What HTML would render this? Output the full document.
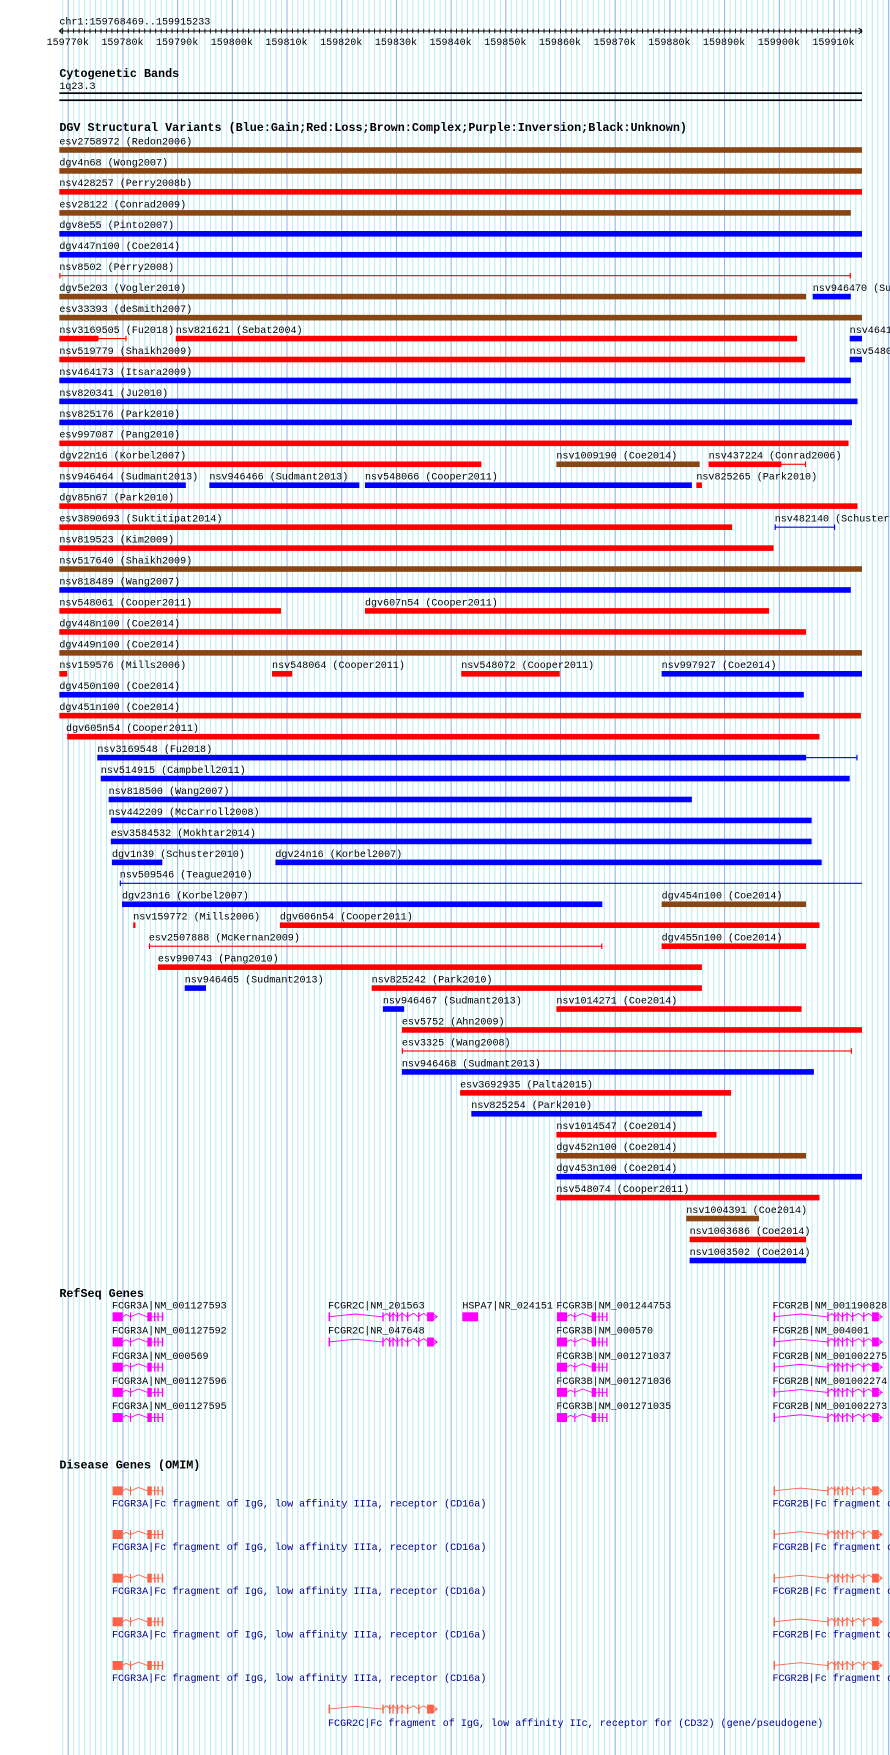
<!DOCTYPE html>
<html><head><meta charset="utf-8"><style>
html,body{margin:0;padding:0;background:#fff;}
svg{display:block;}
text{font-family:"Liberation Mono",monospace;font-size:9px;fill:#000;}
.h{font-weight:bold;font-size:10.5px;}
.d{fill:#00008b;}
#g3a rect,#g2b rect{stroke:none;}
</style></head><body>
<svg width="890" height="1755" viewBox="0 0 795 1568" preserveAspectRatio="none" xmlns="http://www.w3.org/2000/svg">
<defs>
<pattern id="g1" patternUnits="userSpaceOnUse" x="60.5" y="0" width="4.886" height="10"><rect x="0" y="0" width="0.8" height="10" fill="#aeeaf0"/></pattern>
<pattern id="g2" patternUnits="userSpaceOnUse" x="60.5" y="0" width="48.86" height="10"><rect x="0" y="0" width="0.9" height="10" fill="#8fb8ea"/></pattern>
<g id="g3a"><rect x="0" y="-4" width="9" height="8"/><polyline points="9,0 12,-2 16,0 23,-3 31,0" fill="none" stroke-width="0.8"/><rect x="15.5" y="-4" width="1" height="8"/><rect x="31" y="-4" width="4" height="8"/><rect x="37" y="-4" width="1.2" height="8"/><rect x="40" y="-4" width="1.2" height="8"/><rect x="44" y="-4" width="1.2" height="8"/><line x1="35" y1="0" x2="45" y2="0" stroke-width="0.8"/></g>
<g id="g2b"><rect x="0" y="-4" width="1.3" height="8"/><polyline points="0,0 24,-2.5 48,0 52,-3 55,0 58,-3 61,0 66,-3 70,0 76,-3 80,0 85,-3 89,0 97,0" fill="none" stroke-width="0.8"/><rect x="48" y="-4" width="1.2" height="8"/><rect x="54" y="-4" width="1.2" height="8"/><rect x="57" y="-4" width="1.2" height="8"/><rect x="61" y="-4" width="1.2" height="8"/><rect x="65" y="-4" width="1.2" height="8"/><rect x="70" y="-4" width="1.2" height="8"/><rect x="80" y="-4" width="1.2" height="8"/><rect x="88" y="-4" width="6" height="8"/><polyline points="93,-3 97,0 93,3" fill="none" stroke-width="0.8"/></g>
</defs>
<rect x="0" y="0" width="795" height="1568" fill="#fff"/>
<rect x="53" y="0" width="742" height="1568" fill="url(#g1)"/>
<rect x="53" y="0" width="742" height="1568" fill="url(#g2)"/>

<text x="53" y="22">chr1:159768469..159915233</text>
<line x1="53" y1="27.7" x2="770" y2="27.7" stroke="#000" stroke-width="0.8"/>
<line x1="53" y1="27.7" x2="770" y2="27.7" stroke="#000" stroke-width="4" stroke-dasharray="0.8 4.086" stroke-dashoffset="-2.6"/>
<polyline points="56,25 53,27.7 56,30.4" fill="none" stroke="#000" stroke-width="0.8"/>
<polyline points="767,25 770,27.7 767,30.4" fill="none" stroke="#000" stroke-width="0.8"/>
<g text-anchor="middle">
<text x="60.5" y="40">159770k</text><text x="109.4" y="40">159780k</text><text x="158.2" y="40">159790k</text><text x="207.1" y="40">159800k</text><text x="255.9" y="40">159810k</text><text x="304.8" y="40">159820k</text><text x="353.7" y="40">159830k</text><text x="402.5" y="40">159840k</text><text x="451.4" y="40">159850k</text><text x="500.2" y="40">159860k</text><text x="549.1" y="40">159870k</text><text x="598" y="40">159880k</text><text x="646.8" y="40">159890k</text><text x="695.7" y="40">159900k</text><text x="744.5" y="40">159910k</text>
</g>

<text class="h" x="53" y="69">Cytogenetic Bands</text>
<text x="53" y="79.5">1q23.3</text>
<rect x="53" y="82.5" width="717" height="1.5" fill="#000"/>
<rect x="53" y="88.8" width="717" height="1.5" fill="#000"/>

<text class="h" x="53" y="117">DGV Structural Variants (Blue:Gain;Red:Loss;Brown:Complex;Purple:Inversion;Black:Unknown)</text>

<g transform="translate(0,126)"><text x="53" y="3">esv2758972 (Redon2006)</text><rect x="53" y="5.5" width="717" height="5" fill="#8b4513"/></g>
<g transform="translate(0,144.7)"><text x="53" y="3">dgv4n68 (Wong2007)</text><rect x="53" y="5.5" width="717" height="5" fill="#8b4513"/></g>
<g transform="translate(0,163.4)"><text x="53" y="3">nsv428257 (Perry2008b)</text><rect x="53" y="5.5" width="717" height="5" fill="#f00"/></g>
<g transform="translate(0,182.2)"><text x="53" y="3">esv28122 (Conrad2009)</text><rect x="53" y="5.5" width="707" height="5" fill="#8b4513"/></g>
<g transform="translate(0,200.9)"><text x="53" y="3">dgv8e55 (Pinto2007)</text><rect x="53" y="5.5" width="717" height="5" fill="#00f"/></g>
<g transform="translate(0,219.6)"><text x="53" y="3">dgv447n100 (Coe2014)</text><rect x="53" y="5.5" width="717" height="5" fill="#00f"/></g>
<g transform="translate(0,238.3)" fill="#f00"><text x="53" y="3">nsv8502 (Perry2008)</text><rect x="53" y="7.5" width="707" height="1"/><rect x="53" y="5.5" width="1" height="5"/><rect x="759" y="5.5" width="1" height="5"/></g>
<g transform="translate(0,257)"><text x="53" y="3">dgv5e203 (Vogler2010)</text><rect x="53" y="5.5" width="667" height="5" fill="#8b4513"/><text x="726" y="3">nsv946470 (Sudmant2013)</text><rect x="726" y="5.5" width="34" height="5" fill="#00f"/></g>
<g transform="translate(0,275.8)"><text x="53" y="3">esv33393 (deSmith2007)</text><rect x="53" y="5.5" width="717" height="5" fill="#8b4513"/></g>
<g transform="translate(0,294.5)"><text x="53" y="3">nsv3169505 (Fu2018)</text><g fill="#f00"><rect x="53" y="5.5" width="35" height="5"/><rect x="53" y="7.5" width="60" height="1"/><rect x="112" y="5.5" width="1" height="5"/></g><text x="157" y="3">nsv821621 (Sebat2004)</text><rect x="157" y="5.5" width="555" height="5" fill="#f00"/><text x="759" y="3">nsv464173</text><rect x="759" y="5.5" width="11" height="5" fill="#00f"/></g>
<g transform="translate(0,313.2)"><text x="53" y="3">nsv519779 (Shaikh2009)</text><rect x="53" y="5.5" width="666" height="5" fill="#f00"/><text x="759" y="3">nsv548066</text><rect x="759" y="5.5" width="11" height="5" fill="#00f"/></g>
<g transform="translate(0,331.9)"><text x="53" y="3">nsv464173 (Itsara2009)</text><rect x="53" y="5.5" width="707" height="5" fill="#00f"/></g>
<g transform="translate(0,350.6)"><text x="53" y="3">nsv820341 (Ju2010)</text><rect x="53" y="5.5" width="713" height="5" fill="#00f"/></g>
<g transform="translate(0,369.4)"><text x="53" y="3">nsv825176 (Park2010)</text><rect x="53" y="5.5" width="708" height="5" fill="#00f"/></g>
<g transform="translate(0,388.1)"><text x="53" y="3">esv997087 (Pang2010)</text><rect x="53" y="5.5" width="705" height="5" fill="#f00"/></g>
<g transform="translate(0,406.8)"><text x="53" y="3">dgv22n16 (Korbel2007)</text><rect x="53" y="5.5" width="377" height="5" fill="#f00"/><text x="497" y="3">nsv1009190 (Coe2014)</text><rect x="497" y="5.5" width="128" height="5" fill="#8b4513"/><text x="633" y="3">nsv437224 (Conrad2006)</text><g fill="#f00"><rect x="633" y="5.5" width="65" height="5"/><rect x="633" y="7.5" width="87" height="1"/><rect x="719" y="5.5" width="1" height="5"/></g></g>
<g transform="translate(0,425.5)"><text x="53" y="3">nsv946464 (Sudmant2013)</text><rect x="53" y="5.5" width="113" height="5" fill="#00f"/><text x="187" y="3">nsv946466 (Sudmant2013)</text><rect x="187" y="5.5" width="134" height="5" fill="#00f"/><text x="326" y="3">nsv548066 (Cooper2011)</text><rect x="326" y="5.5" width="292" height="5" fill="#00f"/><text x="622" y="3">nsv825265 (Park2010)</text><rect x="622" y="5.5" width="5" height="5" fill="#f00"/></g>
<g transform="translate(0,444.2)"><text x="53" y="3">dgv85n67 (Park2010)</text><rect x="53" y="5.5" width="713" height="5" fill="#f00"/></g>
<g transform="translate(0,463)"><text x="53" y="3">esv3890693 (Suktitipat2014)</text><rect x="53" y="5.5" width="601" height="5" fill="#f00"/><text x="692" y="3">nsv482140 (Schuster2010)</text><g fill="#00f"><rect x="692" y="7.5" width="54" height="1"/><rect x="692" y="5.5" width="1" height="5"/><rect x="745" y="5.5" width="1" height="5"/></g></g>
<g transform="translate(0,481.7)"><text x="53" y="3">nsv819523 (Kim2009)</text><rect x="53" y="5.5" width="638" height="5" fill="#f00"/></g>
<g transform="translate(0,500.4)"><text x="53" y="3">nsv517640 (Shaikh2009)</text><rect x="53" y="5.5" width="717" height="5" fill="#8b4513"/></g>
<g transform="translate(0,519.1)"><text x="53" y="3">nsv818489 (Wang2007)</text><rect x="53" y="5.5" width="707" height="5" fill="#00f"/></g>
<g transform="translate(0,537.8)"><text x="53" y="3">nsv548061 (Cooper2011)</text><rect x="53" y="5.5" width="198" height="5" fill="#f00"/><text x="326" y="3">dgv607n54 (Cooper2011)</text><rect x="326" y="5.5" width="361" height="5" fill="#f00"/></g>
<g transform="translate(0,556.6)"><text x="53" y="3">dgv448n100 (Coe2014)</text><rect x="53" y="5.5" width="667" height="5" fill="#f00"/></g>
<g transform="translate(0,575.3)"><text x="53" y="3">dgv449n100 (Coe2014)</text><rect x="53" y="5.5" width="717" height="5" fill="#8b4513"/></g>
<g transform="translate(0,594)"><text x="53" y="3">nsv159576 (Mills2006)</text><rect x="53" y="5.5" width="7" height="5" fill="#f00"/><text x="243" y="3">nsv548064 (Cooper2011)</text><rect x="243" y="5.5" width="18" height="5" fill="#f00"/><text x="412" y="3">nsv548072 (Cooper2011)</text><rect x="412" y="5.5" width="88" height="5" fill="#f00"/><text x="591" y="3">nsv997927 (Coe2014)</text><rect x="591" y="5.5" width="179" height="5" fill="#00f"/></g>
<g transform="translate(0,612.7)"><text x="53" y="3">dgv450n100 (Coe2014)</text><rect x="53" y="5.5" width="665" height="5" fill="#00f"/></g>
<g transform="translate(0,631.4)"><text x="53" y="3">dgv451n100 (Coe2014)</text><rect x="53" y="5.5" width="716" height="5" fill="#f00"/></g>
<g transform="translate(0,650.2)"><text x="59" y="3">dgv605n54 (Cooper2011)</text><rect x="60" y="5.5" width="672" height="5" fill="#f00"/></g>
<g transform="translate(0,668.9)"><text x="87" y="3">nsv3169548 (Fu2018)</text><g fill="#00f"><rect x="87" y="5.5" width="633" height="5"/><rect x="87" y="7.5" width="679" height="1"/><rect x="87" y="5.5" width="1" height="5"/><rect x="765" y="5.5" width="1" height="5"/></g></g>
<g transform="translate(0,687.6)"><text x="90" y="3">nsv514915 (Campbell2011)</text><rect x="90" y="5.5" width="669" height="5" fill="#00f"/></g>
<g transform="translate(0,706.3)"><text x="97" y="3">nsv818500 (Wang2007)</text><rect x="97" y="5.5" width="521" height="5" fill="#00f"/></g>
<g transform="translate(0,725)"><text x="97" y="3">nsv442209 (McCarroll2008)</text><rect x="99" y="5.5" width="626" height="5" fill="#00f"/></g>
<g transform="translate(0,743.8)"><text x="99" y="3">esv3584532 (Mokhtar2014)</text><rect x="99" y="5.5" width="626" height="5" fill="#00f"/></g>
<g transform="translate(0,762.5)"><text x="100" y="3">dgv1n39 (Schuster2010)</text><rect x="100" y="5.5" width="45" height="5" fill="#00f"/><text x="246" y="3">dgv24n16 (Korbel2007)</text><rect x="246" y="5.5" width="488" height="5" fill="#00f"/></g>
<g transform="translate(0,781.2)"><text x="107" y="3">nsv509546 (Teague2010)</text><g fill="#00f"><rect x="107" y="7.5" width="663" height="1"/><rect x="107" y="5.5" width="1" height="5"/></g></g>
<g transform="translate(0,799.9)"><text x="109" y="3">dgv23n16 (Korbel2007)</text><rect x="109" y="5.5" width="429" height="5" fill="#00f"/><text x="591" y="3">dgv454n100 (Coe2014)</text><rect x="591" y="5.5" width="129" height="5" fill="#8b4513"/></g>
<g transform="translate(0,818.6)"><text x="119" y="3">nsv159772 (Mills2006)</text><rect x="119" y="5.5" width="2" height="5" fill="#f00"/><text x="250" y="3">dgv606n54 (Cooper2011)</text><rect x="250" y="5.5" width="482" height="5" fill="#f00"/></g>
<g transform="translate(0,837.4)"><text x="133" y="3">esv2507888 (McKernan2009)</text><g fill="#f00"><rect x="133" y="7.5" width="405" height="1"/><rect x="133" y="5.5" width="1" height="5"/><rect x="537" y="5.5" width="1" height="5"/></g><text x="591" y="3">dgv455n100 (Coe2014)</text><rect x="591" y="5.5" width="129" height="5" fill="#f00"/></g>
<g transform="translate(0,856.1)"><text x="141" y="3">esv990743 (Pang2010)</text><rect x="141" y="5.5" width="486" height="5" fill="#f00"/></g>
<g transform="translate(0,874.8)"><text x="165" y="3">nsv946465 (Sudmant2013)</text><rect x="165" y="5.5" width="19" height="5" fill="#00f"/><text x="332" y="3">nsv825242 (Park2010)</text><rect x="332" y="5.5" width="295" height="5" fill="#f00"/></g>
<g transform="translate(0,893.5)"><text x="342" y="3">nsv946467 (Sudmant2013)</text><rect x="342" y="5.5" width="19" height="5" fill="#00f"/><text x="497" y="3">nsv1014271 (Coe2014)</text><rect x="497" y="5.5" width="219" height="5" fill="#f00"/></g>
<g transform="translate(0,912.2)"><text x="359" y="3">esv5752 (Ahn2009)</text><rect x="359" y="5.5" width="411" height="5" fill="#f00"/></g>
<g transform="translate(0,931)"><text x="359" y="3">esv3325 (Wang2008)</text><g fill="#f00"><rect x="359" y="7.5" width="402" height="1"/><rect x="359" y="5.5" width="1" height="5"/><rect x="760" y="5.5" width="1" height="5"/></g></g>
<g transform="translate(0,949.7)"><text x="359" y="3">nsv946468 (Sudmant2013)</text><rect x="359" y="5.5" width="368" height="5" fill="#00f"/></g>
<g transform="translate(0,968.4)"><text x="411" y="3">esv3692935 (Palta2015)</text><rect x="411" y="5.5" width="242" height="5" fill="#f00"/></g>
<g transform="translate(0,987.1)"><text x="421" y="3">nsv825254 (Park2010)</text><rect x="421" y="5.5" width="206" height="5" fill="#00f"/></g>
<g transform="translate(0,1005.8)"><text x="497" y="3">nsv1014547 (Coe2014)</text><rect x="497" y="5.5" width="143" height="5" fill="#f00"/></g>
<g transform="translate(0,1024.6)"><text x="497" y="3">dgv452n100 (Coe2014)</text><rect x="497" y="5.5" width="223" height="5" fill="#8b4513"/></g>
<g transform="translate(0,1043.3)"><text x="497" y="3">dgv453n100 (Coe2014)</text><rect x="497" y="5.5" width="273" height="5" fill="#00f"/></g>
<g transform="translate(0,1062)"><text x="497" y="3">nsv548074 (Cooper2011)</text><rect x="497" y="5.5" width="235" height="5" fill="#f00"/></g>
<g transform="translate(0,1080.7)"><text x="613" y="3">nsv1004391 (Coe2014)</text><rect x="613" y="5.5" width="65" height="5" fill="#8b4513"/></g>
<g transform="translate(0,1099.4)"><text x="616" y="3">nsv1003686 (Coe2014)</text><rect x="616" y="5.5" width="104" height="5" fill="#f00"/></g>
<g transform="translate(0,1118.2)"><text x="616" y="3">nsv1003502 (Coe2014)</text><rect x="616" y="5.5" width="104" height="5" fill="#00f"/></g>

<text class="h" x="53" y="1159">RefSeq Genes</text>
<g fill="#ff00ff" stroke="#ff00ff">
<use href="#g3a" x="100.6" y="1176.5"/><use href="#g3a" x="100.6" y="1199"/><use href="#g3a" x="100.6" y="1221.5"/><use href="#g3a" x="100.6" y="1244"/><use href="#g3a" x="100.6" y="1266.5"/>
<use href="#g3a" x="497.5" y="1176.5"/><use href="#g3a" x="497.5" y="1199"/><use href="#g3a" x="497.5" y="1221.5"/><use href="#g3a" x="497.5" y="1244"/><use href="#g3a" x="497.5" y="1266.5"/>
<use href="#g2b" x="293.5" y="1176.5"/><use href="#g2b" x="293.5" y="1199"/>
<use href="#g2b" x="691" y="1176.5"/><use href="#g2b" x="691" y="1199"/><use href="#g2b" x="691" y="1221.5"/><use href="#g2b" x="691" y="1244"/><use href="#g2b" x="691" y="1266.5"/>
<rect x="413" y="1172.5" width="14" height="8" stroke="none"/>
</g>
<text x="100" y="1169">FCGR3A|NM_001127593</text><text x="100" y="1191.5">FCGR3A|NM_001127592</text><text x="100" y="1214">FCGR3A|NM_000569</text><text x="100" y="1236.5">FCGR3A|NM_001127596</text><text x="100" y="1259">FCGR3A|NM_001127595</text>
<text x="293" y="1169">FCGR2C|NM_201563</text><text x="293" y="1191.5">FCGR2C|NR_047648</text>
<text x="413" y="1169">HSPA7|NR_024151</text>
<text x="497" y="1169">FCGR3B|NM_001244753</text><text x="497" y="1191.5">FCGR3B|NM_000570</text><text x="497" y="1214">FCGR3B|NM_001271037</text><text x="497" y="1236.5">FCGR3B|NM_001271036</text><text x="497" y="1259">FCGR3B|NM_001271035</text>
<text x="690" y="1169">FCGR2B|NM_001190828</text><text x="690" y="1191.5">FCGR2B|NM_004001</text><text x="690" y="1214">FCGR2B|NM_001002275</text><text x="690" y="1236.5">FCGR2B|NM_001002274</text><text x="690" y="1259">FCGR2B|NM_001002273</text>

<text class="h" x="53" y="1312">Disease Genes (OMIM)</text>
<g fill="#ff6347" stroke="#ff6347">
<use href="#g3a" x="100.6" y="1332"/><use href="#g3a" x="100.6" y="1371"/><use href="#g3a" x="100.6" y="1410"/><use href="#g3a" x="100.6" y="1449"/><use href="#g3a" x="100.6" y="1488"/>
<use href="#g2b" x="691" y="1332"/><use href="#g2b" x="691" y="1371"/><use href="#g2b" x="691" y="1410"/><use href="#g2b" x="691" y="1449"/><use href="#g2b" x="691" y="1488"/>
<use href="#g2b" x="293.5" y="1527"/>
</g>
<text class="d" x="100" y="1346">FCGR3A|Fc fragment of IgG, low affinity IIIa, receptor (CD16a)</text>
<text class="d" x="100" y="1385">FCGR3A|Fc fragment of IgG, low affinity IIIa, receptor (CD16a)</text>
<text class="d" x="100" y="1424">FCGR3A|Fc fragment of IgG, low affinity IIIa, receptor (CD16a)</text>
<text class="d" x="100" y="1463">FCGR3A|Fc fragment of IgG, low affinity IIIa, receptor (CD16a)</text>
<text class="d" x="100" y="1502">FCGR3A|Fc fragment of IgG, low affinity IIIa, receptor (CD16a)</text>
<text class="d" x="690" y="1346">FCGR2B|Fc fragment of IgG, low affinity IIb</text>
<text class="d" x="690" y="1385">FCGR2B|Fc fragment of IgG, low affinity IIb</text>
<text class="d" x="690" y="1424">FCGR2B|Fc fragment of IgG, low affinity IIb</text>
<text class="d" x="690" y="1463">FCGR2B|Fc fragment of IgG, low affinity IIb</text>
<text class="d" x="690" y="1502">FCGR2B|Fc fragment of IgG, low affinity IIb</text>
<text class="d" x="293" y="1542">FCGR2C|Fc fragment of IgG, low affinity IIc, receptor for (CD32) (gene/pseudogene)</text>
</svg>
</body></html>
